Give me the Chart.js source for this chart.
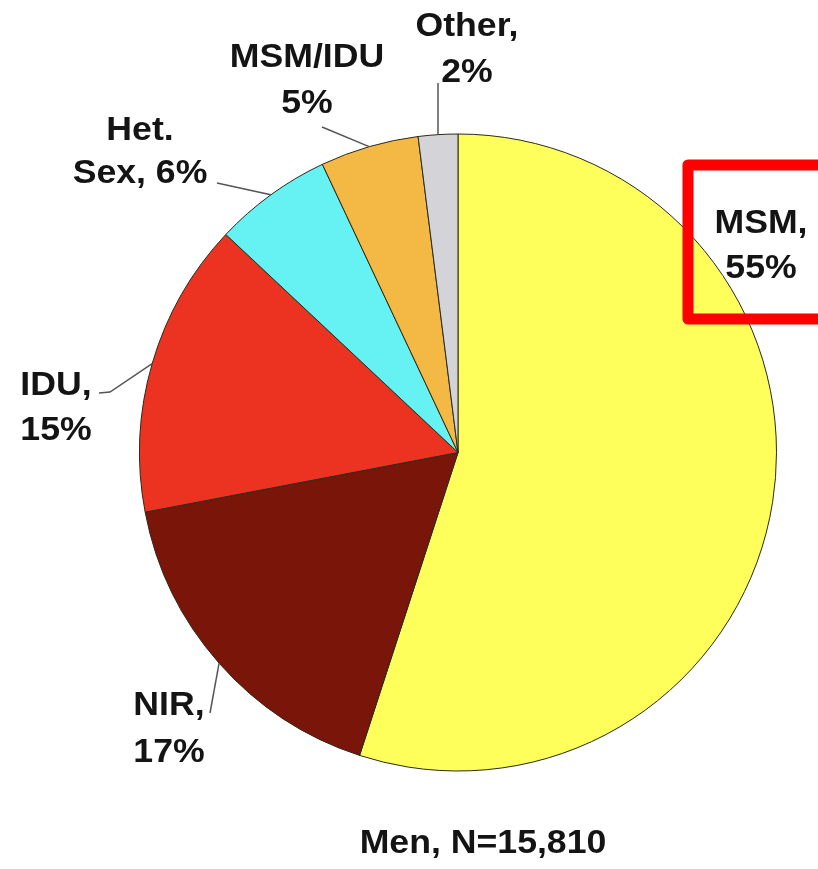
<!DOCTYPE html>
<html>
<head>
<meta charset="utf-8">
<script src="https://cdn.jsdelivr.net/npm/chart.js@4/dist/chart.umd.min.js"></script>
<style>
html,body{margin:0;padding:0;background:#fff;}
canvas{display:block;}
</style>
</head>
<body>
<canvas id="c" width="818" height="869"></canvas>
<script>
// ---- data ----
const categories = ['MSM', 'NIR', 'IDU', 'Het. Sex', 'MSM/IDU', 'Other'];
const percents = [55, 17, 15, 6, 5, 2];
const labelLines = [
  ['MSM,', '55%'],
  ['NIR,', '17%'],
  ['IDU,', '15%'],
  ['Het.', 'Sex, 6%'],
  ['MSM/IDU', '5%'],
  ['Other,', '2%']
];
const caption = 'Men, N=15,810';

// ---- styles / layout ----
const colors = ['#FFFF5C', '#7A1509', '#EC3322', '#66F2F2', '#F4B944', '#D3D3D8'];
// label placement: [centerX, firstBaseline, lineGap]
const labelPos = [
  [761, 233, 45],
  [169, 715, 47],
  [56, 395, 45],
  [140, 140, 43],
  [307, 67, 46],
  [467, 36, 46]
];
// leader line end points (away from the pie), optional elbow
const leaderEnds = [
  null,
  [[210, 713]],
  [[110, 392], [99, 393]],
  [[217, 183]],
  [[322, 127]],
  [[438, 83]]
];

const labelPlugin = {
  id: 'labels',
  afterDraw(chart) {
    const ctx = chart.ctx;
    const meta = chart.getDatasetMeta(0);
    ctx.save();
    // leader lines
    ctx.strokeStyle = '#555';
    ctx.lineWidth = 1.5;
    meta.data.forEach((arc, i) => {
      if (!leaderEnds[i]) return;
      const p = arc.getProps(['x', 'y', 'startAngle', 'endAngle', 'outerRadius'], true);
      const mid = (p.startAngle + p.endAngle) / 2;
      const sx = p.x + Math.cos(mid) * p.outerRadius;
      const sy = p.y + Math.sin(mid) * p.outerRadius;
      ctx.beginPath();
      ctx.moveTo(sx, sy);
      leaderEnds[i].forEach(pt => ctx.lineTo(pt[0], pt[1]));
      ctx.stroke();
    });
    // labels
    ctx.fillStyle = '#141414';
    ctx.font = 'bold 33px "Liberation Sans", Arial, sans-serif';
    ctx.textAlign = 'center';
    ctx.textBaseline = 'alphabetic';
    labelLines.forEach((lines, i) => {
      const [cx, by, gap] = labelPos[i];
      lines.forEach((t, k) => {
        ctx.save();
        ctx.translate(cx, by + k * gap);
        ctx.scale(1.08, 1);
        ctx.fillText(t, 0, 0);
        ctx.restore();
      });
    });
    // caption
    ctx.save();
    ctx.translate(483, 853);
    ctx.scale(1.08, 1);
    ctx.fillText(caption, 0, 0);
    ctx.restore();
    // red highlight box
    ctx.strokeStyle = '#FF0000';
    ctx.lineWidth = 11;
    ctx.lineJoin = 'round';
    ctx.strokeRect(688, 165, 150, 154);
    ctx.restore();
  }
};

new Chart(document.getElementById('c'), {
  type: 'pie',
  data: {
    labels: categories,
    datasets: [{
      data: percents,
      backgroundColor: colors,
      borderColor: '#2a2a1a',
      borderWidth: 1
    }]
  },
  options: {
    responsive: false,
    animation: false,
    devicePixelRatio: 1,
    layout: { padding: { left: 139, right: 41, top: 133, bottom: 97 } },
    plugins: {
      legend: { display: false },
      tooltip: { enabled: false },
      title: { display: false }
    }
  },
  plugins: [labelPlugin]
});
</script>
</body>
</html>
